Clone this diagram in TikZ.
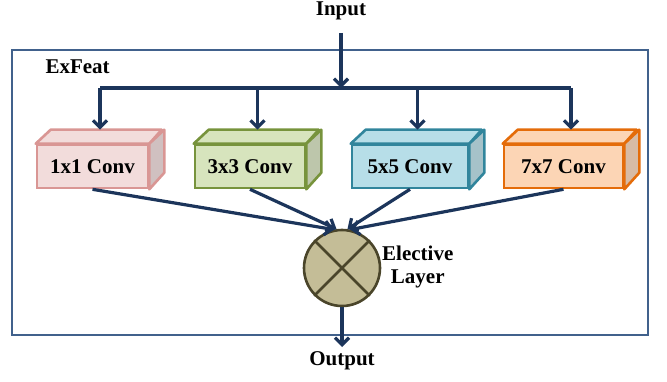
\documentclass[tikz,border=0pt]{standalone}
\usepackage{fontspec}
\setmainfont{Liberation Serif}
\usetikzlibrary{calc}
\usetikzlibrary{arrows.meta}

\definecolor{navy}{HTML}{1C355B}
\definecolor{frameblue}{HTML}{41618C}
\definecolor{boxA}{HTML}{F2DCDB}
\definecolor{edgeA}{HTML}{D99694}
\definecolor{boxB}{HTML}{D7E4BD}
\definecolor{edgeB}{HTML}{77933C}
\definecolor{boxC}{HTML}{B7DEE8}
\definecolor{edgeC}{HTML}{31859C}
\definecolor{boxD}{HTML}{FCD5B5}
\definecolor{edgeD}{HTML}{E46C0A}
\definecolor{electfill}{HTML}{C4BD97}
\definecolor{electedge}{HTML}{4A452A}

\begin{document}
\begin{tikzpicture}[
        x=1pt, y=1pt,
        >={Straight Barb[length=7pt,width=14pt]},
        every node/.style={font=\fontsize{21}{23}\selectfont\bfseries},
        flow/.style={navy, line width=3.2pt},
        convface/.style={line width=2.6pt, minimum height=43pt, inner sep=0pt}
    ]
        \useasboundingbox (0,0) rectangle (667,381);

        % outer block
        \draw[frameblue, line width=2.4pt] (12,46) rectangle (648,331);
        \node[anchor=west] (title) at (42,314) {ExFeat};

        % conv branches
        \foreach \i/\x/\w/\lbl in {A/92.5/111/1x1 Conv, B/250/110/3x3 Conv,
                                  C/410/116/5x5 Conv, D/563.5/119/7x7 Conv} {
            \node[convface, minimum width=\w pt, fill=box\i, draw=edge\i] (b\i) at (\x,214.5) {\lbl};
            \filldraw[fill=box\i, draw=edge\i, line width=2.6pt, line join=round]
                (b\i.north west) -- ++(15,14) -- ++(\w,0) -- (b\i.north east) -- cycle;
            \filldraw[fill=box\i!70!gray, draw=edge\i, line width=2.6pt, line join=round]
                (b\i.north east) -- ++(15,14) -- ++(0,-43) -- (b\i.south east) -- cycle;
            \coordinate (t\i) at ($(b\i.north)+(7.5,14)$);
        }

        % elective layer
        \node[circle, draw=electedge, fill=electfill, line width=2.6pt,
              minimum size=76pt, inner sep=0pt] (elect) at (342,113) {};
        \draw[electedge, line width=2.6pt] (elect.45) -- (elect.225);
        \draw[electedge, line width=2.6pt] (elect.135) -- (elect.315);
        \node[align=center, anchor=west, inner sep=1pt] (electlbl) at (381,114) {Elective\\Layer};

        % input and split
        \node (in) at (341,370) {Input};
        \coordinate (split) at (341,293);
        \draw[flow, ->] (341,348) -- (split);
        \draw[flow] (split -| tA) -- (split -| tD);
        \foreach \i in {A,B,C,D}
            \draw[flow, ->] (split -| t\i) -- (t\i);

        % merge
        \draw[flow, ->] (bA.south) -- (elect.102);
        \draw[flow, ->] (bB.south) -- (elect.98);
        \draw[flow, ->] (bC.south) -- (elect.82);
        \draw[flow, ->] (bD.south) -- (elect.78);

        % output
        \node (out) at (342,20) {Output};
        \draw[flow, ->] (elect.south) -- (342,34);

    \end{tikzpicture}
\end{document}
